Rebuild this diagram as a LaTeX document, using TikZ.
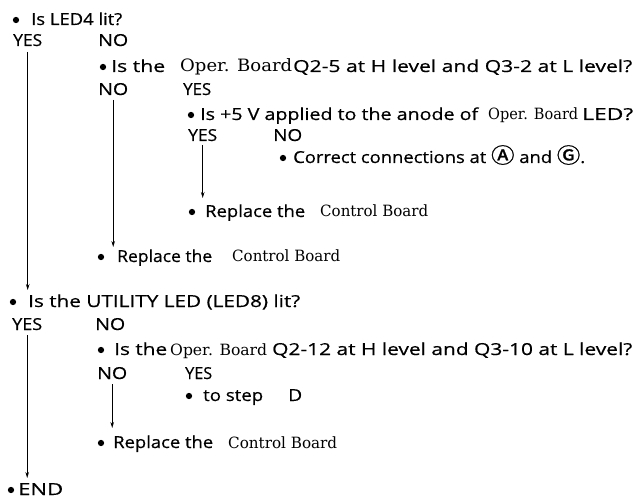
\documentclass[tikz,border=0pt]{standalone}
\usepackage{fontspec}
\usepackage{graphicx}
\newfontfamily\sansf{Open Sans}[FakeBold=0.5]
\newfontfamily\serf{DejaVu Serif}
\newfontfamily\symf{Noto Sans CJK SC}[FakeBold=1]
\usetikzlibrary{arrows.meta}
\newlength\fitlen
\newcommand\fitx[2]{\settowidth\fitlen{#2}\scalebox{\fpeval{#1*65536/\number\fitlen}}[1]{#2}}
\newcommand\circsym[1]{{\symf\fontsize{21}{21}\selectfont #1}}
\tikzset{
  txt/.style={anchor=base west, inner sep=0pt, font=\sansf\fontsize{16.5}{18}\selectfont},
  ser/.style={anchor=base west, inner sep=0pt, font=\serf\fontsize{15.5}{18}\selectfont},
  dot/.style={circle, fill=black, draw=none, inner sep=0pt, minimum size=6.3pt},
  flow/.style={draw=black, line width=0.8pt, -{Stealth[length=6pt,width=3.6pt]}},
}
\begin{document}
\begin{tikzpicture}[x=1pt,y=-1pt]
\useasboundingbox (0,0) rectangle (639,502);
% --- Is LED4 lit?
\node[dot] (b1) at (16,20) {};
\node[txt] (q1) at (31,25) {\fitx{91}{Is LED4 lit?}};
\node[txt] (y1) at (13,46) {\fitx{29}{YES}};
\node[txt] (n1) at (98,46) {\fitx{30}{NO}};
% --- Oper. Board Q2-5
\node[dot] (b2) at (103,67) {};
\node[txt] (q2a) at (111,72) {\fitx{54}{Is the}};
\node[ser, font=\serf\fontsize{17}{18}\selectfont] (q2b) at (180,72) {\fitx{112}{Oper. Board}};
\node[txt] (q2c) at (293,72) {\fitx{339}{Q2-5 at H level and Q3-2 at L level?}};
\node[txt] (n2) at (98,95) {\fitx{30}{NO}};
\node[txt] (y2) at (183,95) {\fitx{28}{YES}};
% --- +5 V
\node[dot] (b3) at (191,115) {};
\node[txt] (q3a) at (200,120) {\fitx{278}{Is +5 V applied to the anode of}};
\node[ser] (q3b) at (488,120) {\fitx{90}{Oper. Board}};
\node[txt] (q3c) at (582,120) {\fitx{51}{LED?}};
\node[txt] (y3) at (188,141) {\fitx{29}{YES}};
\node[txt] (n3) at (273,141) {\fitx{29}{NO}};
% --- Correct connections
\node[dot] (b4) at (283,158) {};
\node[txt] (a1) at (293,163) {\fitx{292}{Correct connections at \circsym{Ⓐ} and \circsym{Ⓖ}.}};
% --- Replace (1)
\node[dot] (b5) at (192,212) {};
\node[txt] (r1a) at (205,217) {\fitx{100}{Replace the}};
\node[ser] (r1b) at (320,217) {\fitx{108}{Control Board}};
% --- Replace (2)
\node[dot] (b6) at (101,257) {};
\node[txt] (r2a) at (117,262) {\fitx{95}{Replace the}};
\node[ser] (r2b) at (232,262) {\fitx{108}{Control Board}};
% --- UTILITY LED
\node[dot] (b7) at (13,302) {};
\node[txt] (q4) at (28,307) {\fitx{272}{Is the UTILITY LED (LED8) lit?}};
\node[txt] (y4) at (12,330) {\fitx{30}{YES}};
\node[txt] (n4) at (95,330) {\fitx{30}{NO}};
% --- Oper. Board Q2-12
\node[dot] (b8) at (101,350) {};
\node[txt] (q5a) at (114,355) {\fitx{53}{Is the}};
\node[ser] (q5b) at (170,355) {\fitx{97}{Oper. Board}};
\node[txt] (q5c) at (272,355) {\fitx{360}{Q2-12 at H level and Q3-10 at L level?}};
\node[txt] (n5) at (97,379) {\fitx{30}{NO}};
\node[txt] (y5) at (185,379) {\fitx{27}{YES}};
% --- to step D
\node[dot] (b9) at (189,396) {};
\node[txt] (s1) at (203,401) {\fitx{60}{to step}};
\node[txt] (s2) at (288,401) {\fitx{14}{D}};
% --- Replace (3)
\node[dot] (b10) at (101,443) {};
\node[txt] (r3a) at (113,448) {\fitx{100}{Replace the}};
\node[ser] (r3b) at (228,448) {\fitx{109}{Control Board}};
% --- END
\node[dot] (b11) at (11,490) {};
\node[txt] (e) at (18,495) {\fitx{45}{END}};
% --- connectors
\draw[flow, shorten <=6pt, shorten >=17pt] (y1.base) -- (y1.base |- q4.base);
\draw[flow, shorten <=5pt, shorten >=15pt] (n2.base) -- (n2.base |- r2a.base);
\draw[flow, shorten <=4pt, shorten >=19pt] (y3.base) -- (y3.base |- r1a.base);
\draw[flow, shorten <=5pt, shorten >=17pt] (y4.base) -- (y4.base |- e.base);
\draw[flow, shorten <=5pt, shorten >=20pt] (n5.base) -- (n5.base |- r3a.base);
\end{tikzpicture}
\end{document}
